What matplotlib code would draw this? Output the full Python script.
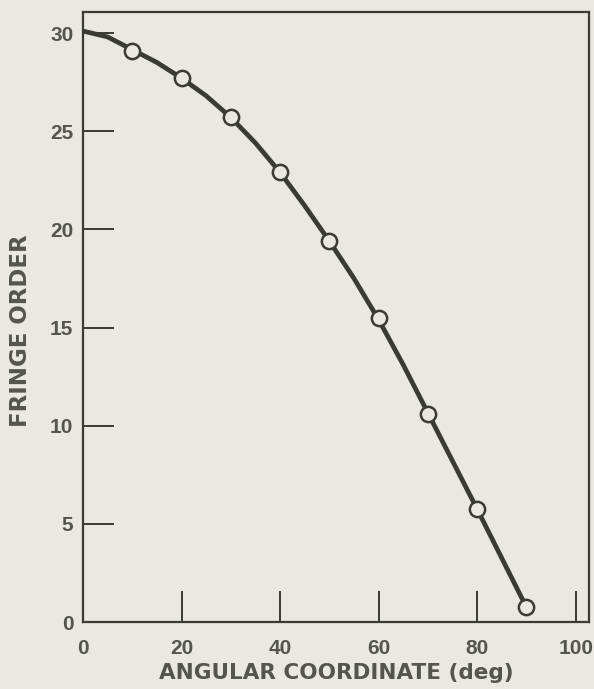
import numpy as np
import matplotlib.pyplot as plt

# measured points (open circles)
angle_pts = [10, 20, 30, 40, 50, 60, 70, 80, 90]
fringe_pts = [29.1, 27.7, 25.7, 22.9, 19.4, 15.5, 10.6, 5.75, 0.75]

# smooth curve every 5 deg
angle_curve = [0, 5, 10, 15, 20, 25, 30, 35, 40, 45, 50, 55, 60, 65, 70, 75, 80, 85, 90]
fringe_curve = [30.1, 29.8, 29.15, 28.5, 27.7, 26.8, 25.7, 24.4, 22.9, 21.2,
                19.4, 17.5, 15.4, 13.1, 10.65, 8.2, 5.75, 3.25, 0.75]

xticks = [0, 20, 40, 60, 80, 100]
yticks = [0, 5, 10, 15, 20, 25, 30]

bg = "#e9e9e1"
ink = "#3b3b36"
txt = "#55554f"

plt.rcParams["font.family"] = ["Liberation Sans", "DejaVu Sans"]

fig = plt.figure(figsize=(5.94, 6.89), dpi=100, facecolor=bg)
ax = fig.add_axes([83 / 594, 67 / 689, 506 / 594, 610 / 689], facecolor=bg)

ax.plot(angle_curve, fringe_curve, color=ink, lw=3.4, solid_capstyle="round",
        solid_joinstyle="round", zorder=2)
ax.plot(angle_pts, fringe_pts, "o", ms=11, mfc=bg, mec=ink, mew=1.8, zorder=3)

ax.set_xlim(0, 102.7)
ax.set_ylim(0, 31.07)
ax.set_xticks(xticks)
ax.set_yticks(yticks)

for s in ax.spines.values():
    s.set_color(ink)
    s.set_linewidth(1.6)

ax.tick_params(direction="in", length=22, width=1.4, color=ink,
               labelsize=15, labelcolor=txt, pad=7)
ax.tick_params(axis="x", pad=12)
for lab in ax.get_xticklabels() + ax.get_yticklabels():
    lab.set_fontweight("bold")

ax.set_xlabel("ANGULAR COORDINATE (deg)", fontsize=15.5, fontweight="bold",
              color=txt, labelpad=4, family="DejaVu Sans")
ax.set_ylabel("FRINGE ORDER", fontsize=16.5, fontweight="bold",
              color=txt, family="DejaVu Sans")
ax.yaxis.set_label_coords(-0.10, 0.477)

fig.savefig("out.png", dpi=100, facecolor=bg)
